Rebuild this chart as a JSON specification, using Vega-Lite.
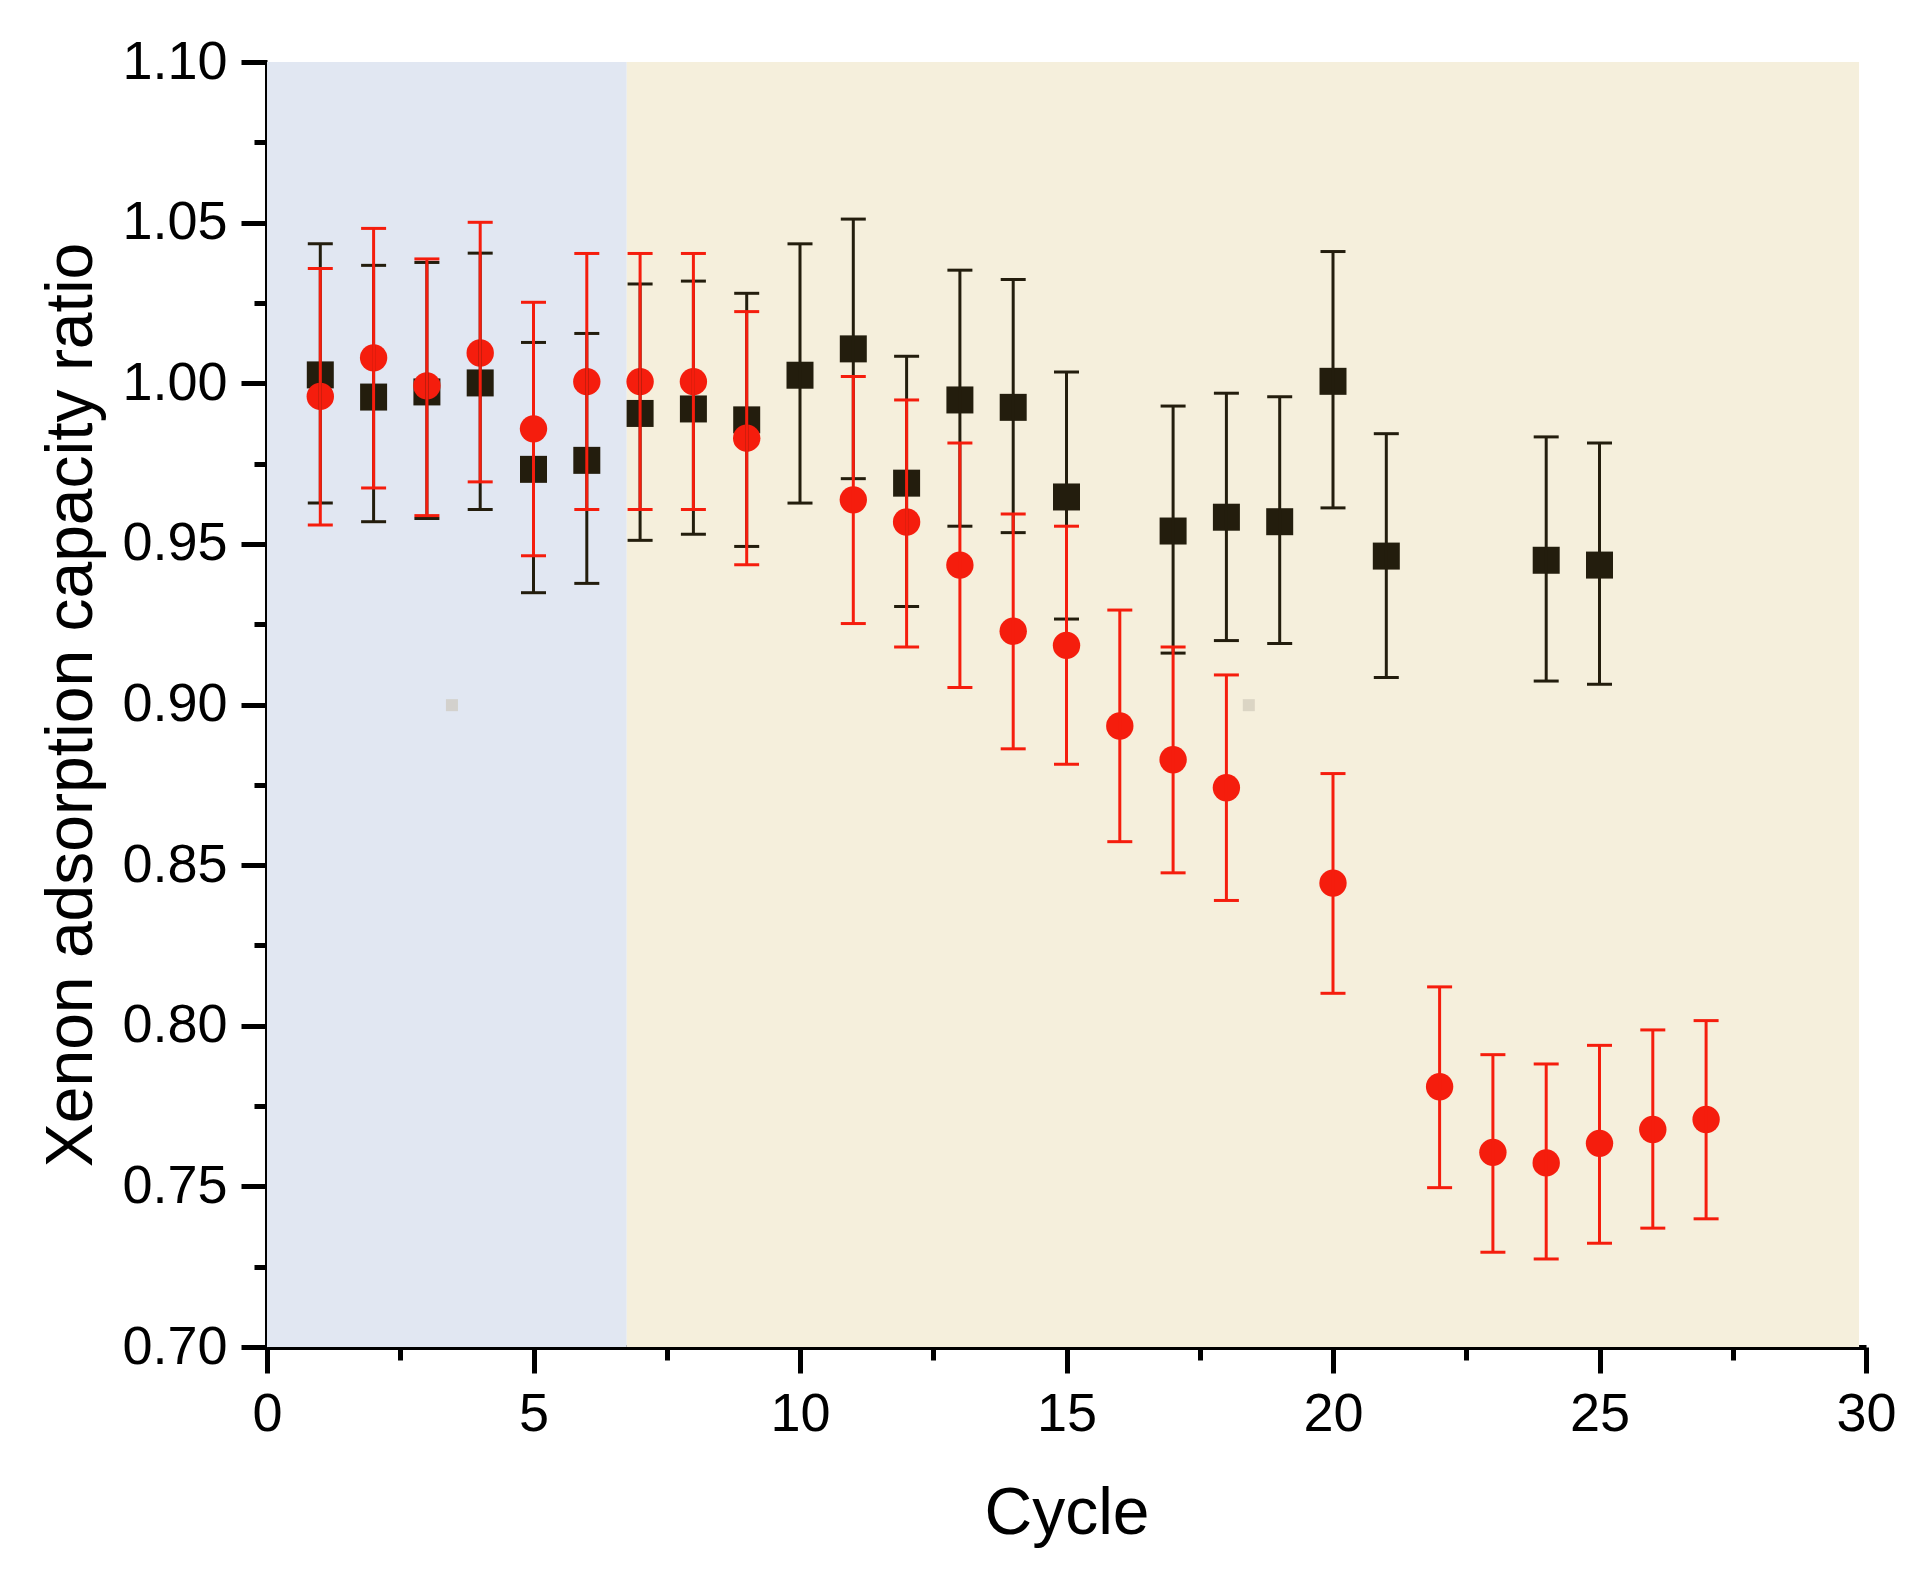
{
  "$schema": "https://vega.github.io/schema/vega-lite/v6.json",
  "width": 1599,
  "height": 1285,
  "autosize": {"type": "none"},
  "padding": {"left": 267, "top": 62, "right": 40, "bottom": 231},
  "background": "white",
  "config": {
    "view": {"stroke": null},
    "axis": {
      "domainColor": "black",
      "domainWidth": 5,
      "tickColor": "black",
      "tickWidth": 5,
      "labelFont": "Liberation Sans",
      "labelFontSize": 54,
      "labelColor": "black",
      "titleFont": "Liberation Sans",
      "titleFontSize": 66,
      "titleFontWeight": "normal",
      "titleColor": "black",
      "grid": false,
      "zindex": 1,
      "labelFlush": false,
      "labelOverlap": false
    }
  },
  "datasets": {
    "pts": [
      {"cycle": 1, "series": "A", "mean": 1.0026, "lo": 0.9627, "hi": 1.0434},
      {"cycle": 2, "series": "A", "mean": 0.9957, "lo": 0.9569, "hi": 1.0367},
      {"cycle": 3, "series": "A", "mean": 0.9973, "lo": 0.9579, "hi": 1.0376},
      {"cycle": 4, "series": "A", "mean": 1.0001, "lo": 0.9607, "hi": 1.0405},
      {"cycle": 5, "series": "A", "mean": 0.9732, "lo": 0.9348, "hi": 1.0127},
      {"cycle": 6, "series": "A", "mean": 0.9760, "lo": 0.9377, "hi": 1.0155},
      {"cycle": 7, "series": "A", "mean": 0.9906, "lo": 0.9511, "hi": 1.0309},
      {"cycle": 8, "series": "A", "mean": 0.9920, "lo": 0.9530, "hi": 1.0318},
      {"cycle": 9, "series": "A", "mean": 0.9886, "lo": 0.9492, "hi": 1.0280},
      {"cycle": 10, "series": "A", "mean": 1.0025, "lo": 0.9627, "hi": 1.0434},
      {"cycle": 11, "series": "A", "mean": 1.0107, "lo": 0.9703, "hi": 1.0511},
      {"cycle": 12, "series": "A", "mean": 0.9689, "lo": 0.9305, "hi": 1.0084},
      {"cycle": 13, "series": "A", "mean": 0.9948, "lo": 0.9555, "hi": 1.0352},
      {"cycle": 14, "series": "A", "mean": 0.9925, "lo": 0.9535, "hi": 1.0323},
      {"cycle": 15, "series": "A", "mean": 0.9646, "lo": 0.9266, "hi": 1.0035},
      {"cycle": 17, "series": "A", "mean": 0.9540, "lo": 0.9160, "hi": 0.9929},
      {"cycle": 18, "series": "A", "mean": 0.9583, "lo": 0.9199, "hi": 0.9969},
      {"cycle": 19, "series": "A", "mean": 0.9569, "lo": 0.9190, "hi": 0.9958},
      {"cycle": 20, "series": "A", "mean": 1.0006, "lo": 0.9612, "hi": 1.0410},
      {"cycle": 21, "series": "A", "mean": 0.9462, "lo": 0.9084, "hi": 0.9843},
      {"cycle": 24, "series": "A", "mean": 0.9449, "lo": 0.9073, "hi": 0.9833},
      {"cycle": 25, "series": "A", "mean": 0.9434, "lo": 0.9063, "hi": 0.9814},
      {"cycle": 1, "series": "B", "mean": 0.9959, "lo": 0.9559, "hi": 1.0357},
      {"cycle": 2, "series": "B", "mean": 1.0079, "lo": 0.9674, "hi": 1.0482},
      {"cycle": 3, "series": "B", "mean": 0.9992, "lo": 0.9588, "hi": 1.0387},
      {"cycle": 4, "series": "B", "mean": 1.0094, "lo": 0.9693, "hi": 1.0501},
      {"cycle": 5, "series": "B", "mean": 0.9858, "lo": 0.9463, "hi": 1.0252},
      {"cycle": 6, "series": "B", "mean": 1.0005, "lo": 0.9607, "hi": 1.0404},
      {"cycle": 7, "series": "B", "mean": 1.0005, "lo": 0.9607, "hi": 1.0404},
      {"cycle": 8, "series": "B", "mean": 1.0005, "lo": 0.9607, "hi": 1.0404},
      {"cycle": 9, "series": "B", "mean": 0.9829, "lo": 0.9435, "hi": 1.0223},
      {"cycle": 11, "series": "B", "mean": 0.9637, "lo": 0.9252, "hi": 1.0021},
      {"cycle": 12, "series": "B", "mean": 0.9568, "lo": 0.9179, "hi": 0.9948},
      {"cycle": 13, "series": "B", "mean": 0.9434, "lo": 0.9053, "hi": 0.9814},
      {"cycle": 14, "series": "B", "mean": 0.9228, "lo": 0.8862, "hi": 0.9593},
      {"cycle": 15, "series": "B", "mean": 0.9184, "lo": 0.8814, "hi": 0.9555},
      {"cycle": 16, "series": "B", "mean": 0.8933, "lo": 0.8573, "hi": 0.9294},
      {"cycle": 17, "series": "B", "mean": 0.8828, "lo": 0.8476, "hi": 0.9179},
      {"cycle": 18, "series": "B", "mean": 0.8741, "lo": 0.8390, "hi": 0.9092},
      {"cycle": 20, "series": "B", "mean": 0.8444, "lo": 0.8101, "hi": 0.8785},
      {"cycle": 22, "series": "B", "mean": 0.7810, "lo": 0.7496, "hi": 0.8121},
      {"cycle": 23, "series": "B", "mean": 0.7606, "lo": 0.7295, "hi": 0.7910},
      {"cycle": 24, "series": "B", "mean": 0.7573, "lo": 0.7274, "hi": 0.7881},
      {"cycle": 25, "series": "B", "mean": 0.7634, "lo": 0.7323, "hi": 0.7939},
      {"cycle": 26, "series": "B", "mean": 0.7677, "lo": 0.7370, "hi": 0.7987},
      {"cycle": 27, "series": "B", "mean": 0.7708, "lo": 0.7399, "hi": 0.8016}
    ],
    "bg": [
      {"region": "early", "x0": 0, "x1": 6.75, "y0": 0.7, "y1": 1.1},
      {"region": "late", "x0": 6.75, "x1": 29.87, "y0": 0.7, "y1": 1.1}
    ],
    "spots": [
      {"cycle": 3.47, "value": 0.8998},
      {"cycle": 18.42, "value": 0.8998}
    ]
  },
  "layer": [
    {
      "data": {"name": "bg"},
      "transform": [{"filter": "datum.region === 'early'"}],
      "mark": {"type": "rect", "fill": "#e1e7f2"},
      "encoding": {
        "x": {"field": "x0", "type": "quantitative", "scale": {"domain": [0, 30], "nice": false, "zero": false},
          "axis": {"orient": "bottom", "values": [0, 5, 10, 15, 20, 25, 30], "tickSize": 26, "labelPadding": 14, "title": "Cycle", "titlePadding": 40}},
        "x2": {"field": "x1"},
        "y": {"field": "y0", "type": "quantitative", "scale": {"domain": [0.7, 1.1], "nice": false, "zero": false},
          "axis": {"orient": "left", "values": [0.7, 0.75, 0.8, 0.85, 0.9, 0.95, 1.0, 1.05, 1.1], "format": ".2f", "tickSize": 26, "labelPadding": 14, "title": "Xenon adsorption capacity ratio", "titlePadding": 16}},
        "y2": {"field": "y1"}
      }
    },
    {
      "data": {"name": "bg"},
      "transform": [{"filter": "datum.region === 'late'"}],
      "mark": {"type": "rect", "fill": "#f5efdc"},
      "encoding": {
        "x": {"field": "x0", "type": "quantitative", "scale": {"domain": [0, 30], "nice": false, "zero": false},
          "axis": {"orient": "bottom", "values": [2.5, 7.5, 12.5, 17.5, 22.5, 27.5], "tickSize": 13, "labels": false, "domain": false, "title": null}},
        "x2": {"field": "x1"},
        "y": {"field": "y0", "type": "quantitative", "scale": {"domain": [0.7, 1.1], "nice": false, "zero": false},
          "axis": {"orient": "left", "values": [0.725, 0.775, 0.825, 0.875, 0.925, 0.975, 1.025, 1.075], "tickSize": 13, "labels": false, "domain": false, "title": null}},
        "y2": {"field": "y1"}
      }
    },
    {
      "data": {"name": "spots"},
      "mark": {"type": "point", "shape": "square", "filled": true, "size": 144, "color": "#c9c3b4", "opacity": 0.6},
      "encoding": {
        "x": {"field": "cycle", "type": "quantitative", "scale": {"domain": [0, 30], "nice": false, "zero": false}, "axis": null},
        "y": {"field": "value", "type": "quantitative", "scale": {"domain": [0.7, 1.1], "nice": false, "zero": false}, "axis": null}
      }
    },
    {
      "data": {"name": "pts"},
      "transform": [{"filter": "datum.series === 'A'"}],
      "mark": {"type": "point", "shape": "square", "filled": true, "size": 729, "color": "#231d0d", "opacity": 1},
      "encoding": {
        "x": {"field": "cycle", "type": "quantitative", "scale": {"domain": [0, 30], "nice": false, "zero": false}, "axis": null},
        "y": {"field": "mean", "type": "quantitative", "scale": {"domain": [0.7, 1.1], "nice": false, "zero": false}, "axis": null}
      }
    },
    {
      "data": {"name": "pts"},
      "transform": [{"filter": "datum.series === 'B'"}],
      "mark": {"type": "point", "shape": "circle", "filled": true, "size": 750, "color": "#f51d0d", "opacity": 1},
      "encoding": {
        "x": {"field": "cycle", "type": "quantitative", "scale": {"domain": [0, 30], "nice": false, "zero": false}, "axis": null},
        "y": {"field": "mean", "type": "quantitative", "scale": {"domain": [0.7, 1.1], "nice": false, "zero": false}, "axis": null}
      }
    },
    {
      "data": {"name": "pts"},
      "transform": [{"filter": "datum.series === 'A'"}],
      "mark": {"type": "rule", "color": "#231d0d", "strokeWidth": 3},
      "encoding": {
        "x": {"field": "cycle", "type": "quantitative", "scale": {"domain": [0, 30], "nice": false, "zero": false}, "axis": null},
        "y": {"field": "lo", "type": "quantitative", "scale": {"domain": [0.7, 1.1], "nice": false, "zero": false}, "axis": null},
        "y2": {"field": "hi"}
      }
    },
    {
      "data": {"name": "pts"},
      "transform": [{"filter": "datum.series === 'A'"}],
      "mark": {"type": "tick", "orient": "horizontal", "size": 25, "thickness": 3, "color": "#231d0d", "opacity": 1},
      "encoding": {
        "x": {"field": "cycle", "type": "quantitative", "scale": {"domain": [0, 30], "nice": false, "zero": false}, "axis": null},
        "y": {"field": "hi", "type": "quantitative", "scale": {"domain": [0.7, 1.1], "nice": false, "zero": false}, "axis": null}
      }
    },
    {
      "data": {"name": "pts"},
      "transform": [{"filter": "datum.series === 'A'"}],
      "mark": {"type": "tick", "orient": "horizontal", "size": 25, "thickness": 3, "color": "#231d0d", "opacity": 1},
      "encoding": {
        "x": {"field": "cycle", "type": "quantitative", "scale": {"domain": [0, 30], "nice": false, "zero": false}, "axis": null},
        "y": {"field": "lo", "type": "quantitative", "scale": {"domain": [0.7, 1.1], "nice": false, "zero": false}, "axis": null}
      }
    },
    {
      "data": {"name": "pts"},
      "transform": [{"filter": "datum.series === 'B'"}],
      "mark": {"type": "rule", "color": "#f51d0d", "strokeWidth": 3},
      "encoding": {
        "x": {"field": "cycle", "type": "quantitative", "scale": {"domain": [0, 30], "nice": false, "zero": false}, "axis": null},
        "y": {"field": "lo", "type": "quantitative", "scale": {"domain": [0.7, 1.1], "nice": false, "zero": false}, "axis": null},
        "y2": {"field": "hi"}
      }
    },
    {
      "data": {"name": "pts"},
      "transform": [{"filter": "datum.series === 'B'"}],
      "mark": {"type": "tick", "orient": "horizontal", "size": 25, "thickness": 3, "color": "#f51d0d", "opacity": 1},
      "encoding": {
        "x": {"field": "cycle", "type": "quantitative", "scale": {"domain": [0, 30], "nice": false, "zero": false}, "axis": null},
        "y": {"field": "hi", "type": "quantitative", "scale": {"domain": [0.7, 1.1], "nice": false, "zero": false}, "axis": null}
      }
    },
    {
      "data": {"name": "pts"},
      "transform": [{"filter": "datum.series === 'B'"}],
      "mark": {"type": "tick", "orient": "horizontal", "size": 25, "thickness": 3, "color": "#f51d0d", "opacity": 1},
      "encoding": {
        "x": {"field": "cycle", "type": "quantitative", "scale": {"domain": [0, 30], "nice": false, "zero": false}, "axis": null},
        "y": {"field": "lo", "type": "quantitative", "scale": {"domain": [0.7, 1.1], "nice": false, "zero": false}, "axis": null}
      }
    }
  ],
  "resolve": {"axis": {"x": "independent", "y": "independent"}}
}
